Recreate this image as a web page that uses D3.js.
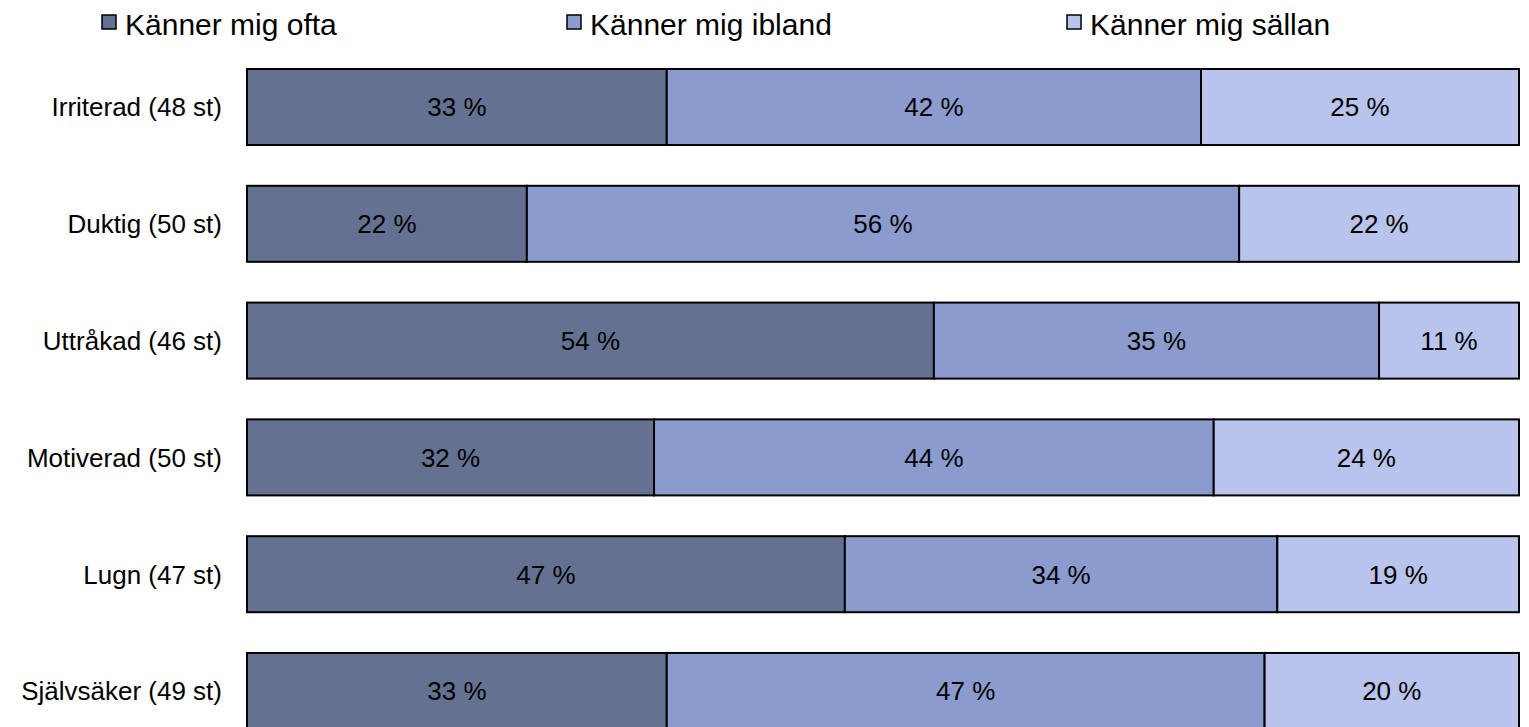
<!DOCTYPE html>
<meta charset="utf-8">
<style>
    body { margin: 0; background: #fff; }
    text {
        font-family: "Liberation Sans", Arial, sans-serif;
        fill: #000;
    }
    .seg {
        stroke: #000;
        stroke-width: 2px;
    }
</style>
<body>
    <svg width="1529" height="727"></svg>
</body>
<script src="https://d3js.org/d3.v7.min.js"></script>
<script>

    // data
    var categories = ["Irriterad (48 st)", "Duktig (50 st)", "Uttråkad (46 st)",
                      "Motiverad (50 st)", "Lugn (47 st)", "Självsäker (49 st)"];
    var seriesNames = ["Känner mig ofta", "Känner mig ibland", "Känner mig sällan"];
    var ofta   = [33, 22, 54, 32, 47, 33];
    var ibland = [42, 56, 35, 44, 34, 47];
    var sallan = [25, 22, 11, 24, 19, 20];
    var colors = ["#657190", "#8b9bcd", "#b8c4ec"];

    var svg = d3.select("svg");

    // build rows for the stack
    var rows = categories.map(function(c, i) {
        return { cat: c, ofta: ofta[i], ibland: ibland[i], sallan: sallan[i] };
    });
    var keys = ["ofta", "ibland", "sallan"];
    var stacked = d3.stack().keys(keys)(rows);

    var x = d3.scaleLinear().domain([0, 100]).range([247, 1519]);
    var y = d3.scaleBand()
            .domain(categories)
            .range([69, 729])
            .paddingInner(0.349)
            .paddingOuter(0);

    // bar segments
    var layer = svg.selectAll(".layer")
            .data(stacked)
            .enter().append("g")
            .attr("class", "layer")
            .attr("fill", function(d, i) { return colors[i]; });

    layer.selectAll("rect")
            .data(function(d) { return d; })
            .enter().append("rect")
            .attr("class", "seg")
            .attr("x", function(d) { return x(d[0]); })
            .attr("y", function(d) { return y(d.data.cat); })
            .attr("width", function(d) { return x(d[1]) - x(d[0]); })
            .attr("height", y.bandwidth());

    // value labels inside segments
    layer.selectAll("text")
            .data(function(d) { return d; })
            .enter().append("text")
            .attr("x", function(d) { return (x(d[0]) + x(d[1])) / 2; })
            .attr("y", function(d) { return y(d.data.cat) + y.bandwidth() / 2; })
            .attr("dy", "0.36em")
            .style("text-anchor", "middle")
            .style("font-size", "26px")
            .text(function(d) { return (d[1] - d[0]) + " %"; });

    // category labels
    svg.selectAll(".cat")
            .data(categories)
            .enter().append("text")
            .attr("class", "cat")
            .attr("x", 222)
            .attr("y", function(d) { return y(d) + y.bandwidth() / 2; })
            .attr("dy", "0.36em")
            .style("text-anchor", "end")
            .style("font-size", "26px")
            .text(function(d) { return d; });

    // legend
    var legendX = [102, 567, 1067];
    var legend = svg.selectAll(".legend")
            .data(seriesNames)
            .enter().append("g")
            .attr("class", "legend")
            .attr("transform", function(d, i) { return "translate(" + legendX[i] + ",15)"; });

    legend.append("rect")
            .attr("width", 14)
            .attr("height", 14)
            .attr("fill", function(d, i) { return colors[i]; })
            .attr("stroke", "#000")
            .attr("stroke-width", 1.5);

    legend.append("text")
            .attr("x", 23)
            .attr("y", 20)
            .style("font-size", "30px")
            .text(function(d) { return d; });

</script>
